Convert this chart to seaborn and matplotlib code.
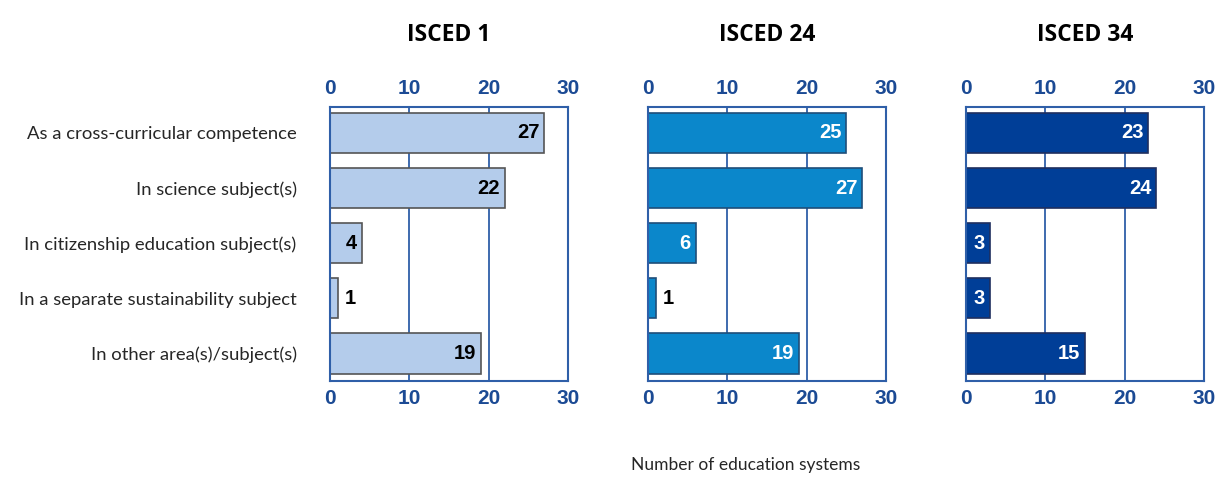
import matplotlib
matplotlib.use("Agg")
import matplotlib.pyplot as plt
import seaborn as sns

categories = [
    "As a cross-curricular competence",
    "In science subject(s)",
    "In citizenship education subject(s)",
    "In a separate sustainability subject",
    "In other area(s)/subject(s)",
]
isced1 = [27, 22, 4, 1, 19]
isced24 = [25, 27, 6, 1, 19]
isced34 = [23, 24, 3, 3, 15]
titles = ["ISCED 1", "ISCED 24", "ISCED 34"]
ticks = [0, 10, 20, 30]

sns.set_style("white")
plt.rcParams["font.family"] = ["Liberation Sans Narrow", "Liberation Sans", "DejaVu Sans"]

axis_blue = "#2F5FA8"
tick_blue = "#1B4A94"
bar_colors = ["#B4CCEB", "#0B87CB", "#003E97"]
edge_colors = ["#555555", "#1F4E79", "#1F2F5F"]
text_colors = ["black", "white", "white"]

fig = plt.figure(figsize=(12.17, 4.78), dpi=100)
lefts = [330 / 1217, 648 / 1217, 966 / 1217]
width = 238 / 1217
bottom = 1 - 381 / 478
height = (381 - 106.5) / 478

series = [isced1, isced24, isced34]
for i, vals in enumerate(series):
    ax = fig.add_axes([lefts[i], bottom, width, height])
    sns.barplot(x=vals, y=categories, ax=ax, color=bar_colors[i], width=0.73,
                edgecolor=edge_colors[i], linewidth=1.2, saturation=1, orient="h")
    ax.set_xlim(0, 30)
    ax.set_ylim(4.5, -0.48)
    ax.set_xticks(ticks)
    ax.set_xticklabels([str(t) for t in ticks])
    ax.tick_params(axis="x", top=True, labeltop=True, bottom=True, labelbottom=True,
                   length=0, pad=6, labelsize=15, labelcolor=tick_blue)
    for lab in ax.get_xticklabels():
        lab.set_fontweight("bold")
    ax.xaxis.grid(True, color=axis_blue, linewidth=1.3)
    ax.yaxis.grid(False)
    ax.set_axisbelow(True)
    for s in ax.spines.values():
        s.set_color(axis_blue)
        s.set_linewidth(1.5)
    ax.set_xlabel("")
    ax.set_ylabel("")
    if i == 0:
        ax.tick_params(axis="y", length=0, pad=24, labelsize=13.3)
        for lab in ax.get_yticklabels():
            lab.set_family(["Lato", "DejaVu Sans"])
    else:
        ax.set_yticklabels([])
        ax.tick_params(axis="y", length=0)
    for j, v in enumerate(vals):
        if v >= 2:
            ax.text(v - 0.6, j, str(v), ha="right", va="center", fontsize=14.5,
                    fontweight="bold", color=text_colors[i])
        else:
            ax.text(v + 0.9, j, str(v), ha="left", va="center", fontsize=14.5,
                    fontweight="bold", color="black")
    ax.set_title(titles[i], fontsize=16.5, fontweight="bold", pad=47,
                 family=["Open Sans", "DejaVu Sans"], color="black")

fig.text(746 / 1217, 1 - 465 / 478, "Number of education systems", ha="center",
         va="center", fontsize=12.5, family=["Lato", "DejaVu Sans"])

fig.savefig("out.png", dpi=100)
